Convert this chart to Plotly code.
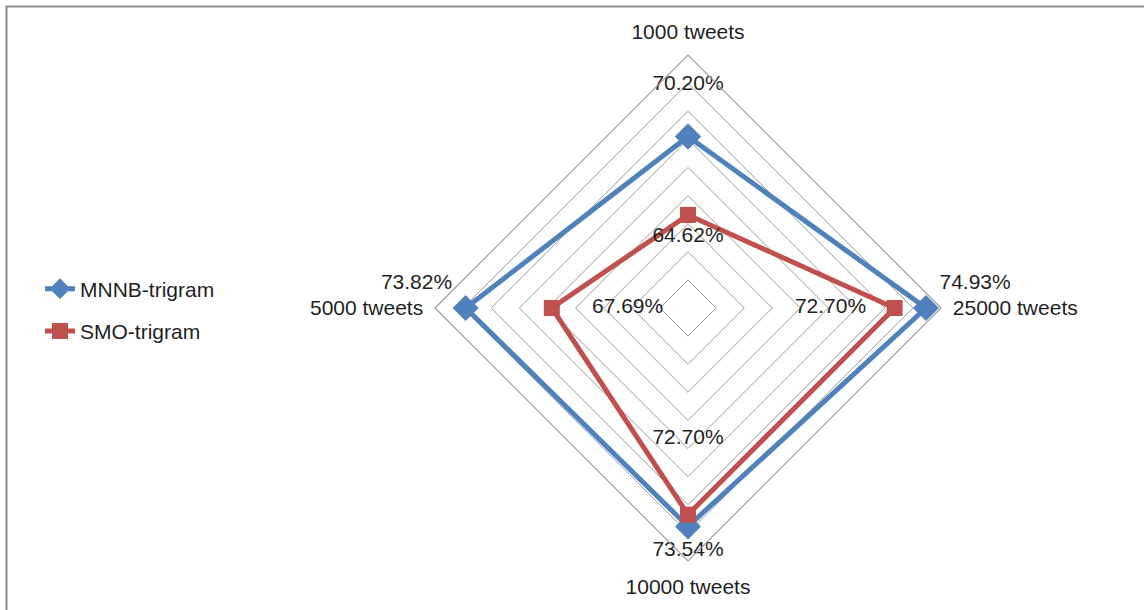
import plotly.graph_objects as go

categories = ["1000 tweets", "25000 tweets", "10000 tweets", "5000 tweets"]
mnnb_values = [0.7020, 0.7493, 0.7354, 0.7382]
smo_values = [0.6462, 0.7270, 0.7270, 0.6769]
series_names = ["MNNB-trigram", "SMO-trigram"]

blue = "#4F81BD"
red = "#C0504D"
grid = "#9C9C9C"
txt = "#1F1F1F"
font_family = "Liberation Sans, Arial, sans-serif"
fs = 21

def closed(seq):
    return list(seq) + [seq[0]]

def labels(vals):
    return [f"{v*100:.2f}%" for v in vals]

m_lab = labels(mnnb_values)
s_lab = labels(smo_values)
nb = "\u00a0"

mnnb_text = [m_lab[0] + "<br> ", m_lab[1], m_lab[2], m_lab[3], ""]
mnnb_pos = ["top center", "top right", "bottom center", "top left", "top center"]
smo_text = [s_lab[0], s_lab[1] + nb * 3, s_lab[2] + "<br> <br> ", nb * 5 + s_lab[3], ""]
smo_pos = ["bottom center", "middle left", "top center", "middle right", "top center"]

fig = go.Figure()
fig.add_trace(go.Scatterpolar(
    r=closed(mnnb_values), theta=closed(categories), name=series_names[0],
    mode="lines+markers+text", text=mnnb_text, textposition=mnnb_pos,
    textfont=dict(size=fs, color=txt, family=font_family),
    line=dict(color=blue, width=5),
    marker=dict(symbol="diamond", size=20, color=blue),
    legendgroup="a", cliponaxis=False,
))
fig.add_trace(go.Scatterpolar(
    r=closed(smo_values), theta=closed(categories), name=series_names[1],
    mode="lines+markers+text", text=smo_text, textposition=smo_pos,
    textfont=dict(size=fs, color=txt, family=font_family),
    line=dict(color=red, width=5),
    marker=dict(symbol="square", size=16, color=red),
    legendgroup="b", cliponaxis=False,
))

W, H = 1144, 610
cx, cy, R = 688, 308, 253
fig.update_layout(
    width=W, height=H,
    margin=dict(l=0, r=0, t=0, b=0),
    paper_bgcolor="white",
    font=dict(family=font_family, size=fs, color=txt),
    polar=dict(
        domain=dict(x=[(cx - R) / W, (cx + R) / W], y=[(H - cy - R) / H, (H - cy + R) / H]),
        gridshape="linear",
        bgcolor="white",
        radialaxis=dict(range=[0.58, 0.76], tick0=0.58, dtick=0.02, showticklabels=False,
                        ticks="", showline=False, gridcolor=grid, gridwidth=1.2),
        angularaxis=dict(direction="clockwise", rotation=90, showgrid=False,
                         showline=True, linecolor=grid, linewidth=1.2,
                         ticks="outside", ticklen=7, tickcolor="rgba(0,0,0,0)",
                         tickfont=dict(size=fs, color=txt, family=font_family)),
    ),
    legend=dict(x=40 / W, y=1 - 310 / H, xanchor="left", yanchor="middle",
                font=dict(size=fs, color=txt, family=font_family),
                tracegroupgap=12, bgcolor="rgba(0,0,0,0)"),
    showlegend=True,
    shapes=[
        dict(type="line", xref="paper", yref="paper", x0=6 / W, x1=1, y0=1 - 6.5 / H, y1=1 - 6.5 / H,
             line=dict(color="#8C8C8C", width=2)),
        dict(type="line", xref="paper", yref="paper", x0=6.5 / W, x1=6.5 / W, y0=0, y1=1 - 6 / H,
             line=dict(color="#8C8C8C", width=2)),
    ],
)

fig.write_html("out.html")
